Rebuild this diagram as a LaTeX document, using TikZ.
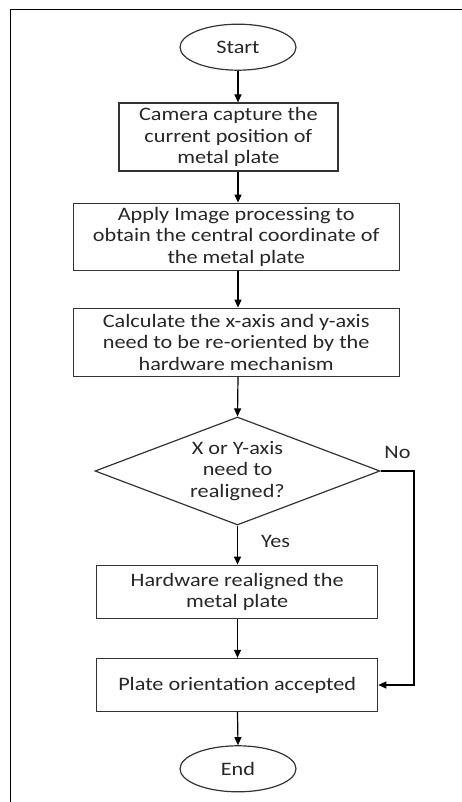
\documentclass[tikz,border=0pt]{standalone}
\usepackage{fontspec}
\setmainfont{Carlito}[FakeStretch=1.17]
\usetikzlibrary{shapes.geometric,arrows.meta}
\begin{document}
\begin{tikzpicture}[x=1pt,y=1pt,
  every node/.style={font=\fontsize{19}{21.3}\selectfont, text=black!85},
  procbox/.style={draw=black!80, line width=1.2pt, rectangle, align=center, inner sep=0pt},
  term/.style={draw=black!80, line width=1.2pt, ellipse, inner sep=0pt},
  decide/.style={draw=black!80, line width=1.2pt, diamond, inner sep=0pt},
  flow/.style={draw=black, line width=1.2pt, -{Triangle[length=8pt,width=7pt]}},
  frameline/.style={draw=black, line width=1.8pt}
]
\useasboundingbox (0,0) rectangle (462,-802);
% frame
\coordinate (ftr) at (462,-9.5);
\coordinate (ftl) at (10.5,-9.5);
\coordinate (fbl) at (10.5,-802);
\draw[frameline] (ftr) -- (ftl) -- (fbl);

\node[term, minimum width=116pt, minimum height=46pt] (start) at (238,-47.2) {Start};
\node[procbox, minimum width=219pt, minimum height=68pt] (b1) at (228.4,-137)
  {Camera capture the\\current position of\\metal plate};
\node[procbox, minimum width=326pt, minimum height=67pt] (b2) at (236.2,-236.7)
  {Apply Image processing to\\obtain the central coordinate of\\the metal plate};
\node[procbox, minimum width=326pt, minimum height=68pt] (b3) at (236.2,-342.2)
  {Calculate the x-axis and y-axis\\need to be re-oriented by the\\hardware mechanism};
\node[decide, minimum width=285pt, minimum height=108pt, shape aspect=2.64] (d) at (237.5,-471) {};
\node[align=center] (dtext) at (237.5,-471) {X or Y-axis\\need to\\realigned?};
\node[procbox, minimum width=281pt, minimum height=53pt] (b4) at (237.2,-591.7)
  {Hardware realigned the\\metal plate};
\node[procbox, minimum width=281pt, minimum height=53pt] (b5) at (237.2,-685)
  {Plate orientation accepted};
\node[term, minimum width=116pt, minimum height=46pt] (end) at (238,-768.8) {End};

\node (no) at (397.5,-452) {No};
\node (yes) at (275.5,-541) {Yes};

\draw[flow] (start.south) -- (start.south |- b1.north);
\draw[flow] (start.south |- b1.south) -- (start.south |- b2.north);
\draw[flow] (start.south |- b2.south) -- (start.south |- b3.north);
\draw[flow] (start.south |- b3.south) -- (d.north);
\draw[flow] (d.south) -- (d.south |- b4.north);
\draw[flow] (d.south |- b4.south) -- (d.south |- b5.north);
\draw[flow] (d.south |- b5.south) -- (end.north);
\coordinate (nr) at (414,-471);
\draw[flow] (d.east) -- (nr) |- (b5.east);
\end{tikzpicture}
\end{document}
